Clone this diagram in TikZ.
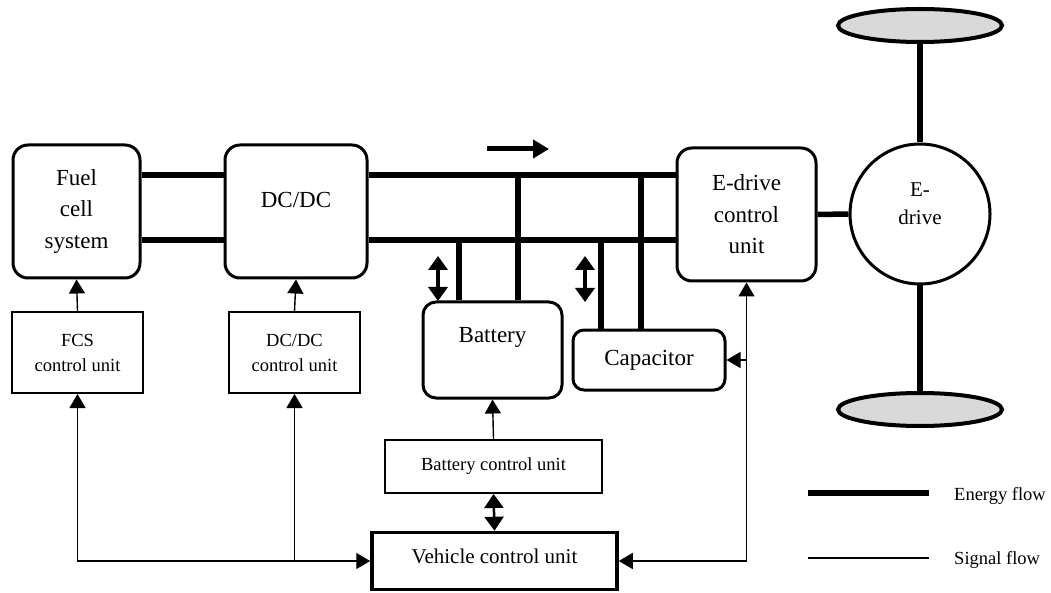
\documentclass[tikz,border=0pt]{standalone}
\usepackage{fontspec}
\setmainfont{Liberation Serif}
\usetikzlibrary{arrows.meta,shapes.geometric,calc}

% text sizes
\newcommand\txtL{\fontsize{23}{31.5}\selectfont}
\newcommand\txtM{\fontsize{21}{28}\selectfont}
\newcommand\txtS{\fontsize{18.5}{25}\selectfont}

\begin{document}
\begin{tikzpicture}[x=1pt,y=-1pt,
  bigbox/.style={draw,line width=3pt,rounded corners=15pt,inner sep=0pt,align=center,font=\txtL},
  ctrlbox/.style={draw,line width=2pt,inner sep=0pt,align=center,font=\txtS},
  energy/.style={line width=5.5pt},
  sig/.style={line width=1.4pt},
  stip/.tip={Triangle[length=14pt,width=16pt]},
  ttip/.tip={Triangle[length=14pt,width=19pt]},
  wheel/.style={draw,ellipse,line width=4pt,fill=gray!30,inner sep=0pt,minimum width=164,minimum height=33}
]
\useasboundingbox (0,0) rectangle (1051,593);

% ---- power train blocks
\node[bigbox,minimum width=127,minimum height=133] (fcs) at (76.5,211.5) {Fuel\\cell\\system};
\node[bigbox,minimum width=142,minimum height=133] (dcdc) at (296,211.5) {};
\node[font=\txtL] at ([yshift=11.5pt]dcdc.center) {DC/DC};
\node[bigbox,minimum width=139,minimum height=133] (edcu) at (746.5,214.5) {E-drive\\control\\unit};
\node[draw,circle,line width=3pt,minimum size=140,inner sep=0pt] (edrive) at (920,214) {};
\node[font=\txtM,align=center] at ([yshift=10pt]edrive.center) {E-\\drive};
\node[wheel] (wT) at (920,25.5) {};
\node[wheel] (wB) at (920,409.5) {};

% ---- storage blocks
\node[bigbox,rounded corners=13pt,minimum width=139,minimum height=96] (bat) at (492.5,350) {};
\node[font=\txtL] at ([yshift=13pt]bat.center) {Battery};
\node[bigbox,rounded corners=11pt,minimum width=152,minimum height=60] (cap) at (649,360) {Capacitor};

% ---- control units
\node[ctrlbox,minimum width=131,minimum height=81] (fcsc) at (77.5,352.5) {FCS\\control unit};
\node[ctrlbox,minimum width=131,minimum height=81] (dcc) at (294.5,352.5) {DC/DC\\control unit};
\node[ctrlbox,minimum width=217,minimum height=53] (bcu) at (493.5,466.5) {Battery control unit};
\node[draw,line width=3.5pt,inner sep=0pt,minimum width=245,minimum height=57,font=\fontsize{21}{26}\selectfont,text depth=10pt] (vcu) at (494.5,561) {Vehicle control unit};

% ---- energy bus
\coordinate (busT) at (0,175);
\coordinate (busB) at (0,240);
\draw[energy] (fcs.east |- busT) -- (dcdc.west |- busT);
\draw[energy] (fcs.east |- busB) -- (dcdc.west |- busB);
\draw[energy] (dcdc.east |- busT) -- (edcu.west |- busT);
\draw[energy] (dcdc.east |- busB) -- (edcu.west |- busB);

\coordinate (tb1) at (459,240);
\coordinate (tb2) at (518,175);
\coordinate (tc1) at (601,240);
\coordinate (tc2) at (641,175);
\draw[energy] (tb1) -- (tb1 |- bat.north);
\draw[energy] (tb2) -- (tb2 |- bat.north);
\draw[energy] (tc1) -- (tc1 |- cap.north);
\draw[energy] (tc2) -- (tc2 |- cap.north);

\draw[energy] (edcu.east) -- (edrive.west);
\draw[energy] (edrive.north) -- (wT.south);
\draw[energy] (edrive.south) -- (wB.north);

% direction of power flow and charge/discharge arrows
\coordinate (fa) at (487,149);
\coordinate (fb) at (549,149);
\draw[line width=5pt,-{Triangle[length=16pt,width=18pt]}] (fa) -- (fb);
\coordinate (da1) at (438,256);
\coordinate (da2) at (438,301);
\draw[line width=4.5pt,ttip-ttip] (da1) -- (da2);
\coordinate (db1) at (585,256);
\coordinate (db2) at (585,302);
\draw[line width=4.5pt,ttip-ttip] (db1) -- (db2);

% ---- signal lines
\draw[sig,-stip] (fcsc.north) -- (fcs.south);
\draw[sig,-stip] (dcc.north) -- (dcdc.south);
\draw[sig,stip-stip] (fcsc.south) |- (vcu.west);
\draw[sig,-stip] (dcc.south |- vcu.west) -- (dcc.south);
\draw[sig,stip-stip] (vcu.east) -| (edcu.south);
\draw[sig,-stip] (cap.east -| edcu.south) -- (cap.east);
\draw[sig,-stip] (bcu.north) -- (bat.south);
\draw[line width=2.5pt,ttip-ttip] (bcu.south) -- (vcu.north);

% ---- legend
\coordinate (le1) at (808,493);
\coordinate (le2) at (929,493);
\draw[energy] (le1) -- (le2);
\node[anchor=base west,font=\txtS,inner sep=0pt] (leE) at (954,500) {Energy flow};
\coordinate (ls1) at (808,558);
\coordinate (ls2) at (929,558);
\draw[sig] (ls1) -- (ls2);
\node[anchor=base west,font=\txtS,inner sep=0pt] (leS) at (954,564) {Signal flow};
\end{tikzpicture}
\end{document}
